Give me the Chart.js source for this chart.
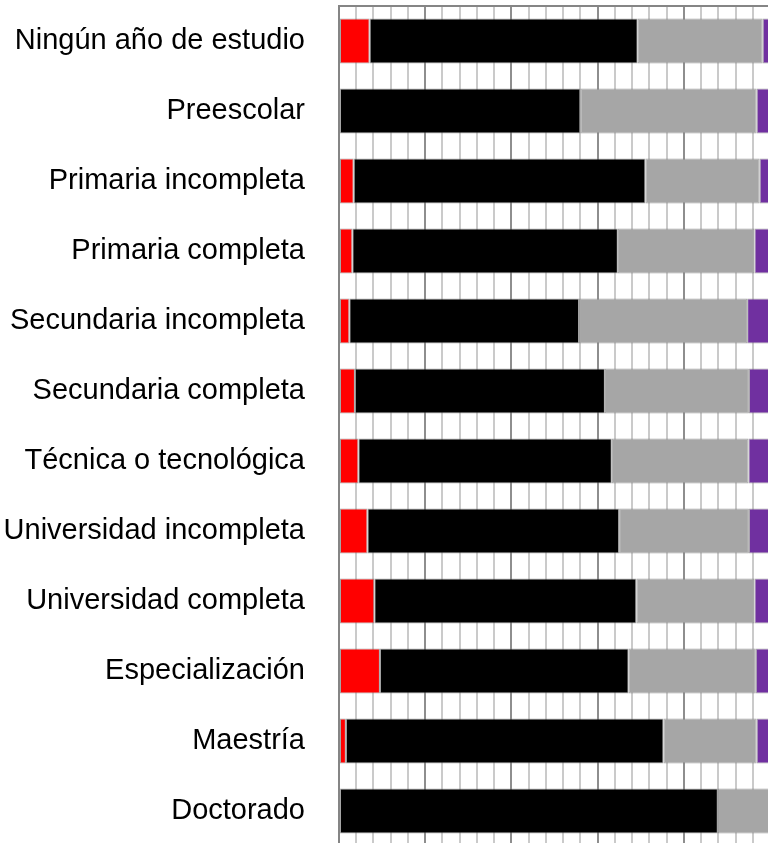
<!DOCTYPE html>
<html>
<head>
<meta charset="utf-8">
<script src="https://cdn.jsdelivr.net/npm/chart.js@4/dist/chart.umd.min.js"></script>
<style>
  html, body { margin: 0; padding: 0; background: #fff; overflow: hidden; }
  #wrap { width: 768px; height: 843px; overflow: hidden; }
</style>
</head>
<body>
<div id="wrap">
  <canvas id="chart" width="770" height="846"></canvas>
</div>
<script>
const categories = [
  "Ningún año de estudio",
  "Preescolar",
  "Primaria incompleta",
  "Primaria completa",
  "Secundaria incompleta",
  "Secundaria completa",
  "Técnica o tecnológica",
  "Universidad incompleta",
  "Universidad completa",
  "Especialización",
  "Maestría",
  "Doctorado"
];

// percentages (each row adds up to ~100)
const serieRoja    = [7.1, 0.0, 3.4, 3.1, 2.4, 3.7, 4.5, 6.6, 8.2, 9.5, 1.6, 0.0];
const serieNegra   = [62.2, 56.0, 67.7, 61.6, 53.3, 58.0, 58.8, 58.4, 60.8, 57.7, 73.7, 87.9];
const serieGris    = [29.0, 40.9, 26.5, 31.7, 39.0, 33.4, 31.7, 30.1, 27.4, 29.5, 21.6, 12.1];
const serieMorada  = [1.7, 3.1, 2.4, 3.6, 5.3, 4.9, 5.0, 4.9, 3.6, 3.3, 3.1, 0.0];

const colores = ["#ff0000", "#000000", "#a6a6a6", "#7030a0"];

const ctx = document.getElementById("chart");

// no extra padding around the plot area
const sinPadding = (scale) => {
  scale.paddingTop = 0;
  scale.paddingBottom = 0;
  scale.paddingLeft = 0;
  scale.paddingRight = 0;
};

const myChart = new Chart(ctx, {
  type: "bar",
  data: {
    labels: categories,
    datasets: [
      { label: "Serie 1", data: serieRoja, backgroundColor: colores[0] },
      { label: "Serie 2", data: serieNegra, backgroundColor: colores[1] },
      { label: "Serie 3", data: serieGris, backgroundColor: colores[2] },
      { label: "Serie 4", data: serieMorada, backgroundColor: colores[3] }
    ]
  },
  options: {
    indexAxis: "y",
    responsive: false,
    animation: false,
    layout: { padding: 0 },
    datasets: {
      bar: {
        borderWidth: 1,
        borderColor: "rgba(128,128,128,0.7)",
        borderSkipped: false,
        categoryPercentage: 0.8,
        barPercentage: 0.8
      }
    },
    plugins: {
      legend: { display: false },
      tooltip: { enabled: false }
    },
    scales: {
      x: {
        position: "top",
        stacked: true,
        min: 0,
        max: 100,
        ticks: { display: false, stepSize: 4 },
        grid: {
          drawTicks: false,
          lineWidth: 2,
          //every 20% the line is darker
          color: (c) => (c.tick && c.tick.value % 20 === 0) ? "#8e8e8e" : "#cacaca"
        },
        border: { display: true, color: "#858585", width: 2 },
        afterFit: (scale) => { scale.height = 6; sinPadding(scale); }
      },
      y: {
        stacked: true,
        ticks: {
          color: "#000",
          padding: 34,
          font: { family: "'Liberation Sans', Arial, sans-serif", size: 29 }
        },
        grid: { display: false, drawTicks: false },
        border: { display: true, color: "#858585", width: 2 },
        afterFit: (scale) => { scale.width = 339; sinPadding(scale); }
      }
    }
  }
});
</script>
</body>
</html>
